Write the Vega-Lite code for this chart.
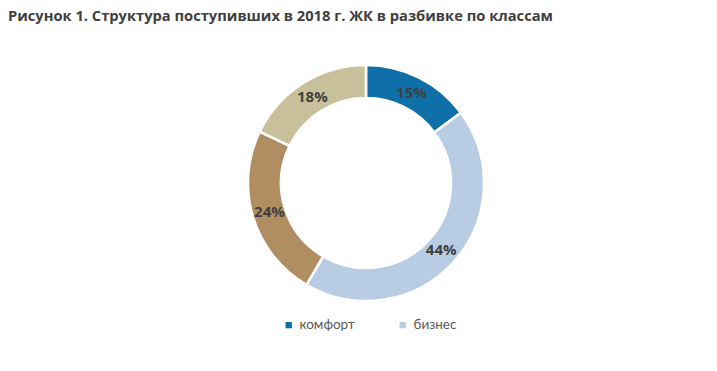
{
  "$schema": "https://vega.github.io/schema/vega-lite/v6.json",
  "autosize": {"type": "none"},
  "width": 702,
  "height": 366,
  "padding": {"left": 15, "top": 0, "right": 0, "bottom": 5},
  "background": "white",
  "title": {
    "text": "Рисунок 1. Структура поступивших в 2018 г. ЖК в разбивке по классам",
    "anchor": "start",
    "frame": "group",
    "font": "Open Sans",
    "fontSize": 14.7,
    "fontWeight": "bold",
    "color": "#404040",
    "offset": 0,
    "dx": -7,
    "dy": 24
  },
  "config": {"view": {"stroke": null}},
  "data": {
    "values": [
      {"category": "комфорт", "share": 15, "label": "15%", "rank": 1},
      {"category": "бизнес", "share": 44, "label": "44%", "rank": 2},
      {"category": "премиум", "share": 24, "label": "24%", "rank": 3},
      {"category": "элит", "share": 18, "label": "18%", "rank": 4}
    ]
  },
  "encoding": {
    "theta": {"field": "share", "type": "quantitative", "stack": true},
    "order": {"field": "rank", "type": "ordinal"}
  },
  "layer": [
    {
      "mark": {"type": "arc", "outerRadius": 118, "innerRadius": 85, "stroke": "white", "strokeWidth": 2.5},
      "encoding": {
        "color": {
          "field": "category",
          "type": "nominal",
          "scale": {
            "domain": ["комфорт", "бизнес", "премиум", "элит"],
            "range": ["#0F70A9", "#B8CCE4", "#B08E62", "#C8C09B"]
          },
          "legend": {
            "values": ["комфорт", "бизнес"],
            "orient": "none",
            "legendX": 267,
            "legendY": 318,
            "direction": "horizontal",
            "title": null,
            "symbolType": "square",
            "symbolSize": 40,
            "symbolStrokeWidth": 0,
            "labelFont": "Lato",
            "labelFontSize": 13.5,
            "labelColor": "#595959",
            "columnPadding": 41
          }
        }
      }
    },
    {
      "mark": {"type": "text", "radius": 101, "font": "Open Sans", "fontSize": 15, "fontWeight": "bold", "color": "#404040"},
      "encoding": {
        "text": {"field": "label", "type": "nominal"}
      }
    }
  ]
}
